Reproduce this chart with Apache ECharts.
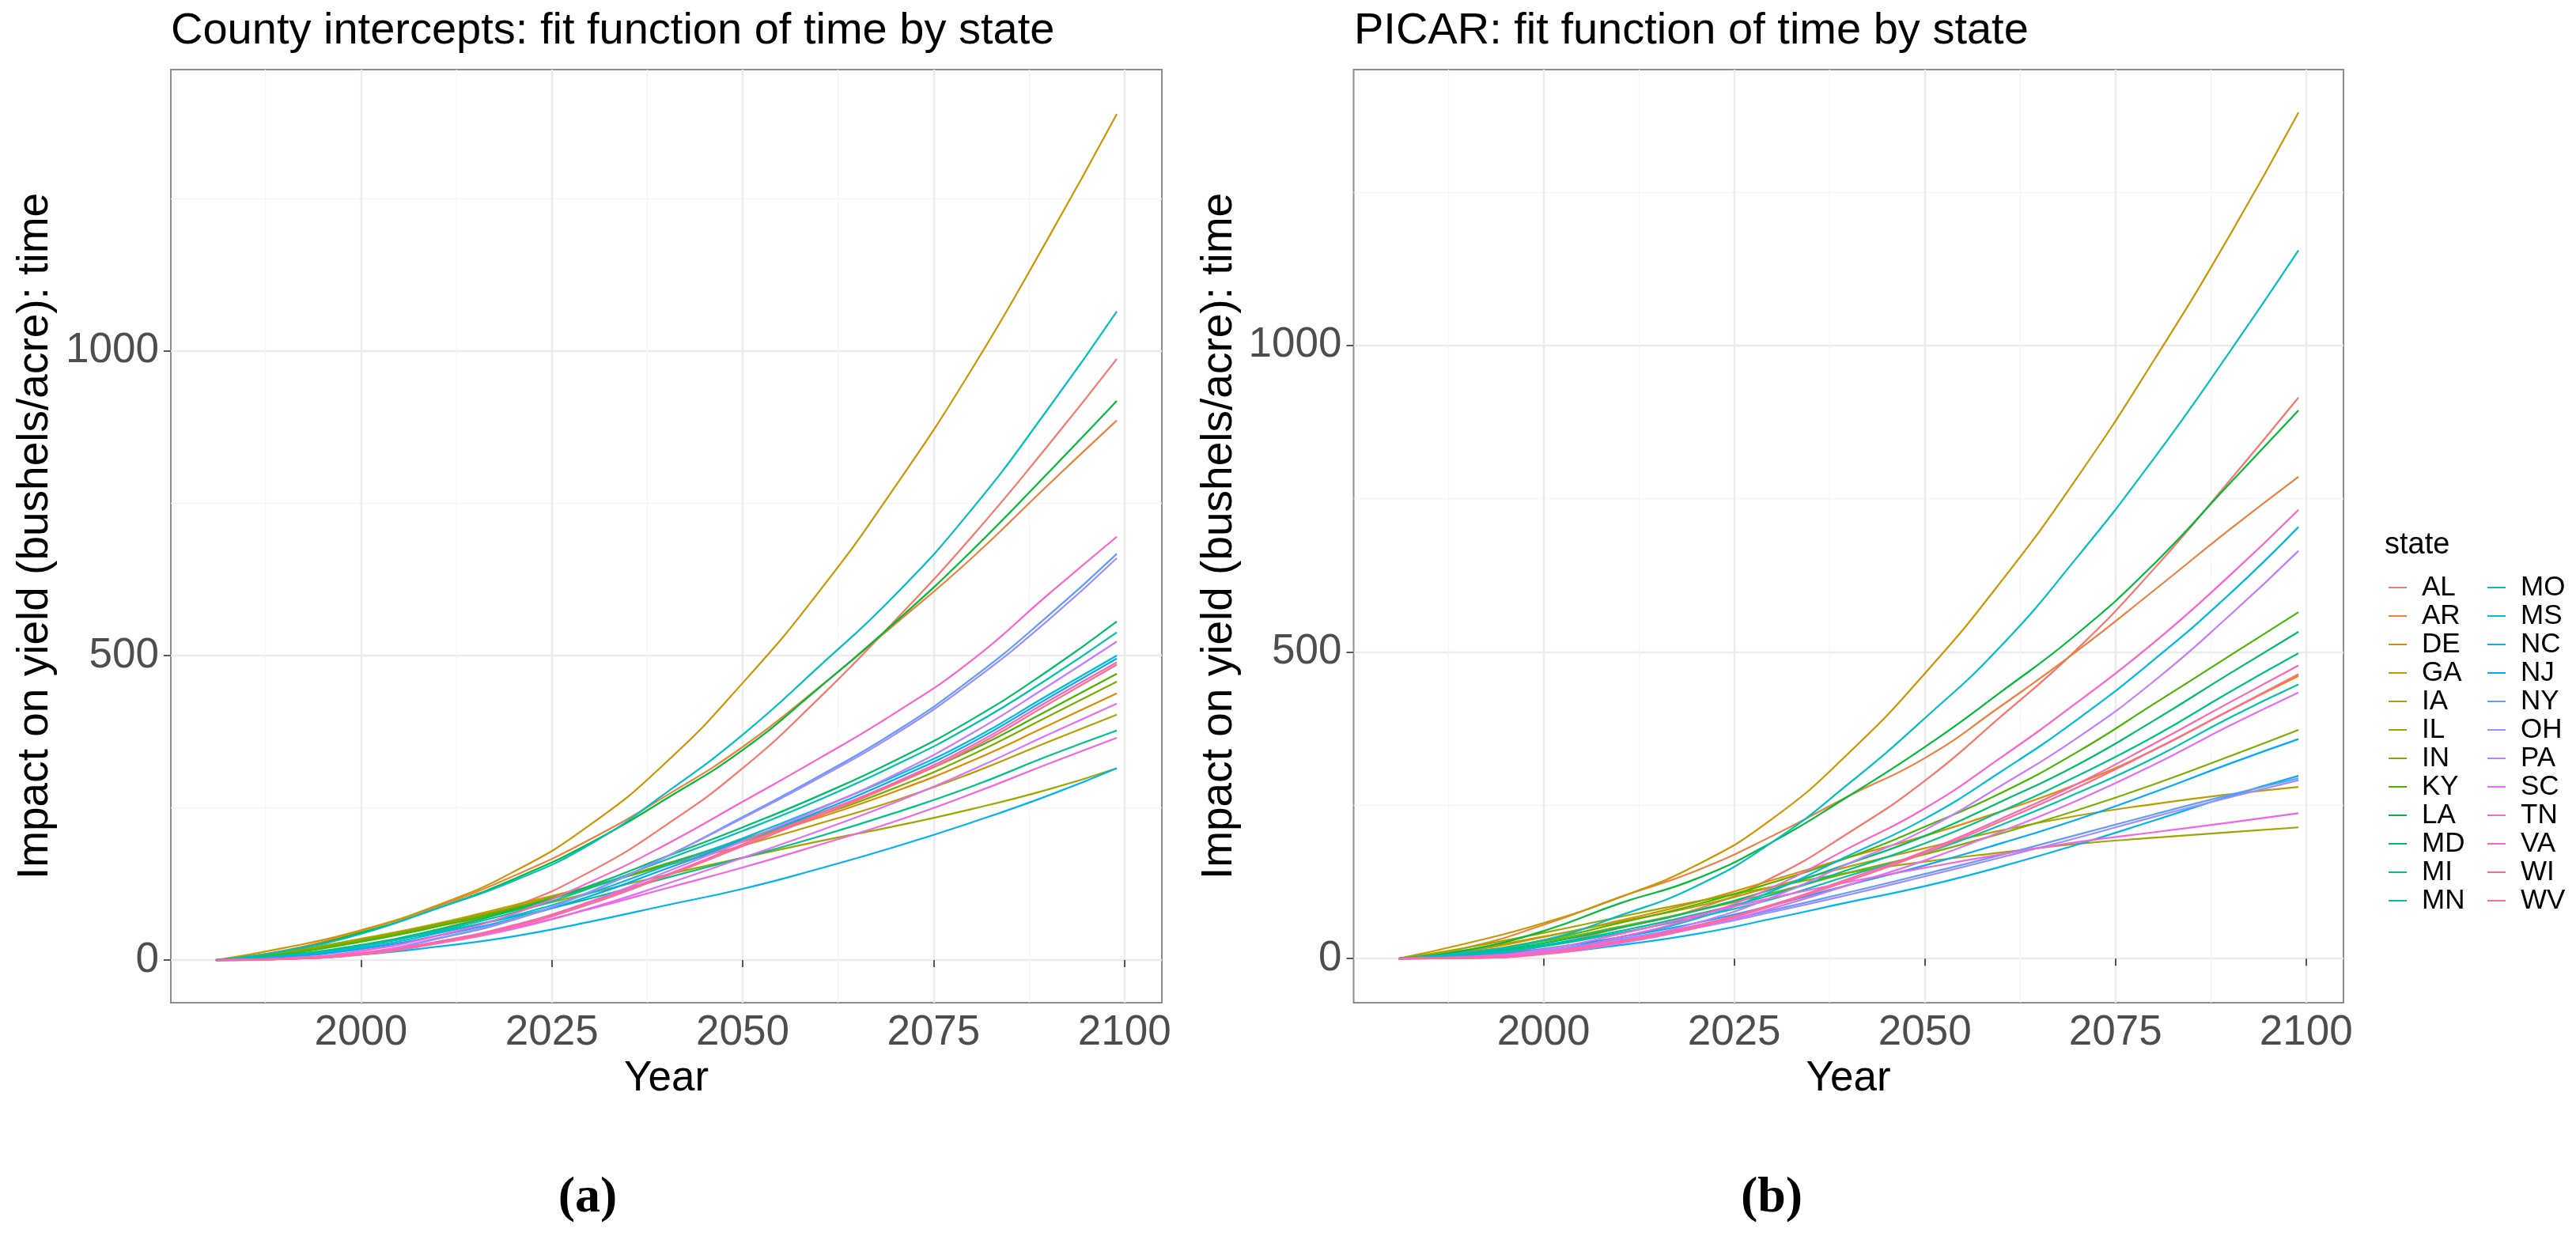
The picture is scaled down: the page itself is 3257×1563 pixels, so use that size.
<!DOCTYPE html>
<html><head><meta charset="utf-8">
<script src="https://cdn.jsdelivr.net/npm/echarts@6/dist/echarts.min.js"></script>
<style>html,body{margin:0;padding:0;background:#fff}#c{width:3257px;height:1563px}</style>
</head><body><div id="c"></div>
<script>
// ---------------- data ----------------
const years = [1981, 1990, 2000, 2010, 2020, 2030, 2040, 2050, 2060, 2070, 2080, 2090, 2099];
const statesCol1 = ['AL','AR','DE','GA','IA','IL','IN','KY','LA','MD','MI','MN'];
const statesCol2 = ['MO','MS','NC','NJ','NY','OH','PA','SC','TN','VA','WI','WV'];
const xTicks = [2000, 2025, 2050, 2075, 2100];
const xMinor = [1987.5, 2012.5, 2037.5, 2062.5, 2087.5];
const yTicks = [0, 500, 1000];
const yMinor = [250, 750, 1250];

// (a) County intercepts
const ci_AL = [0, 5, 22, 50, 88, 145, 222, 315, 430, 558, 695, 845, 987];
const ci_AR = [0, 16, 48, 88, 138, 198, 270, 350, 448, 552, 660, 780, 886];
const ci_DE = [0, 12, 33, 58, 87, 120, 157, 194, 234, 277, 327, 385, 438];
const ci_GA = [0, 20, 49, 90, 145, 222, 325, 455, 605, 778, 970, 1185, 1389];
const ci_IA = [0, 13, 35, 60, 90, 121, 155, 188, 224, 262, 307, 358, 403];
const ci_IL = [0, 14, 34, 56, 81, 110, 140, 168, 195, 220, 248, 280, 315];
const ci_IN = [0, 12, 32, 58, 86, 120, 158, 196, 237, 283, 337, 400, 457];
const ci_KY = [0, 10, 30, 55, 84, 119, 158, 198, 241, 290, 345, 410, 470];
const ci_LA = [0, 15, 45, 85, 133, 192, 265, 345, 447, 555, 672, 800, 918];
const ci_MD = [0, 8, 25, 50, 82, 122, 170, 218, 270, 328, 395, 475, 556];
const ci_MI = [0, 8, 24, 46, 71, 101, 135, 168, 203, 242, 285, 335, 377];
const ci_MN = [0, 7, 23, 48, 78, 118, 165, 212, 263, 320, 385, 462, 538];
const ci_MO = [0, 15, 43, 85, 130, 190, 275, 370, 482, 600, 740, 905, 1065];
const ci_MS = [0, 6, 20, 44, 73, 110, 155, 200, 249, 302, 362, 435, 500];
const ci_NC = [0, 2, 9, 22, 39, 63, 90, 117, 150, 186, 226, 270, 315];
const ci_NJ = [0, 5, 18, 40, 68, 105, 150, 196, 244, 297, 357, 430, 495];
const ci_NY = [0, 2, 10, 35, 66, 112, 170, 235, 302, 375, 462, 565, 667];
const ci_OH = [0, 2, 11, 36, 67, 112, 170, 233, 299, 371, 457, 558, 660];
const ci_PA = [0, 2, 10, 30, 57, 96, 145, 195, 248, 305, 372, 450, 523];
const ci_SC = [0, 2, 9, 27, 51, 85, 125, 168, 212, 259, 312, 370, 421];
const ci_TN = [0, 3, 12, 30, 53, 84, 118, 152, 189, 228, 273, 322, 365];
const ci_VA = [0, 3, 15, 40, 76, 128, 190, 260, 331, 406, 492, 600, 695];
const ci_WI = [0, 2, 10, 30, 57, 95, 140, 190, 240, 292, 352, 425, 489];
const ci_WV = [0, 2, 9, 28, 55, 92, 138, 187, 237, 289, 348, 420, 485];

// (b) PICAR
const pc_AL = [0, 4, 20, 50, 80, 132, 205, 290, 395, 505, 635, 780, 915];
const pc_AR = [0, 18, 55, 100, 143, 200, 265, 327, 412, 502, 600, 700, 786];
const pc_DE = [0, 12, 35, 62, 92, 128, 165, 200, 240, 285, 340, 405, 461];
const pc_GA = [0, 25, 58, 100, 152, 228, 335, 465, 615, 785, 975, 1180, 1380];
const pc_IA = [0, 14, 36, 60, 85, 117, 150, 180, 209, 233, 252, 268, 280];
const pc_IL = [0, 18, 42, 68, 93, 117, 140, 158, 173, 187, 197, 206, 214];
const pc_IN = [0, 9, 28, 52, 78, 107, 140, 170, 204, 242, 284, 330, 373];
const pc_KY = [0, 10, 30, 58, 88, 124, 165, 215, 270, 337, 415, 494, 565];
const pc_LA = [0, 14, 45, 90, 130, 190, 265, 345, 435, 530, 643, 775, 894];
const pc_MD = [0, 8, 25, 50, 78, 113, 155, 200, 256, 316, 388, 465, 533];
const pc_MI = [0, 7, 22, 45, 72, 104, 145, 188, 240, 298, 362, 435, 498];
const pc_MN = [0, 6, 20, 42, 67, 97, 135, 172, 218, 270, 327, 393, 447];
const pc_MO = [0, 10, 30, 70, 118, 190, 285, 392, 510, 655, 815, 990, 1155];
const pc_MS = [0, 3, 12, 35, 65, 110, 168, 228, 305, 390, 487, 595, 704];
const pc_NC = [0, 1, 8, 22, 40, 65, 92, 118, 150, 186, 225, 265, 298];
const pc_NJ = [0, 4, 16, 35, 58, 87, 120, 152, 188, 227, 271, 318, 358];
const pc_NY = [0, 3, 13, 32, 53, 79, 108, 138, 169, 202, 235, 267, 294];
const pc_OH = [0, 2, 12, 30, 50, 76, 104, 134, 165, 197, 231, 263, 291];
const pc_PA = [0, 2, 10, 30, 58, 100, 155, 210, 282, 360, 452, 560, 665];
const pc_SC = [0, 1, 7, 25, 50, 82, 120, 160, 207, 258, 316, 380, 434];
const pc_TN = [0, 3, 15, 40, 70, 99, 125, 148, 170, 190, 206, 222, 237];
const pc_VA = [0, 2, 10, 35, 68, 116, 180, 245, 328, 418, 515, 625, 732];
const pc_WI = [0, 1, 8, 28, 54, 88, 130, 175, 228, 285, 350, 418, 478];
const pc_WV = [0, 1, 8, 27, 52, 86, 127, 172, 224, 279, 340, 405, 464];

const countyTable = {AL:ci_AL,AR:ci_AR,DE:ci_DE,GA:ci_GA,IA:ci_IA,IL:ci_IL,IN:ci_IN,KY:ci_KY,LA:ci_LA,MD:ci_MD,MI:ci_MI,MN:ci_MN,
  MO:ci_MO,MS:ci_MS,NC:ci_NC,NJ:ci_NJ,NY:ci_NY,OH:ci_OH,PA:ci_PA,SC:ci_SC,TN:ci_TN,VA:ci_VA,WI:ci_WI,WV:ci_WV};
const picarTable = {AL:pc_AL,AR:pc_AR,DE:pc_DE,GA:pc_GA,IA:pc_IA,IL:pc_IL,IN:pc_IN,KY:pc_KY,LA:pc_LA,MD:pc_MD,MI:pc_MI,MN:pc_MN,
  MO:pc_MO,MS:pc_MS,NC:pc_NC,NJ:pc_NJ,NY:pc_NY,OH:pc_OH,PA:pc_PA,SC:pc_SC,TN:pc_TN,VA:pc_VA,WI:pc_WI,WV:pc_WV};

// ---------------- styling ----------------
// ggplot2 default hue palette (hcl, c=100, l=65)
function hclHex(h, c, l) {
  const hr = h * Math.PI / 180;
  const U = c * Math.cos(hr), V = c * Math.sin(hr);
  const Xn = 95.047, Yn = 100, Zn = 108.883;
  const den = Xn + 15 * Yn + 3 * Zn;
  const un = 4 * Xn / den, vn = 9 * Yn / den;
  const Y = l > 8 ? Yn * Math.pow((l + 16) / 116, 3) : Yn * l / 903.3;
  const u = U / (13 * l) + un, v = V / (13 * l) + vn;
  const X = Y * 9 * u / (4 * v);
  const Z = Y * (12 - 3 * u - 20 * v) / (4 * v);
  const x = X / 100, y = Y / 100, z = Z / 100;
  let rgb = [
    3.240479 * x - 1.537150 * y - 0.498535 * z,
    -0.969256 * x + 1.875992 * y + 0.041556 * z,
    0.055648 * x - 0.204043 * y + 1.057311 * z
  ];
  rgb = rgb.map(t => {
    t = t <= 0.0031308 ? 12.92 * t : 1.055 * Math.pow(t, 1 / 2.4) - 0.055;
    t = Math.max(0, Math.min(1, t));
    return Math.round(t * 255).toString(16).padStart(2, '0');
  });
  return '#' + rgb.join('');
}
const allStates = statesCol1.concat(statesCol2);
const palette = {};
allStates.forEach((s, i) => { palette[s] = hclHex(15 + 360 / allStates.length * i, 100, 65); });

const FONT = "'Liberation Sans', Arial, Helvetica, sans-serif";
const grids = [
  {left: 216, top: 88, width: 1253, height: 1180},
  {left: 1711.5, top: 88, width: 1251.5, height: 1180}
];
const yRanges = [[-70, 1462], [-72, 1450]];
const xRange = [1975.1, 2104.9];
const plain = v => String(Math.round(v));

function makeX(gi) {
  return [{
    gridIndex: gi, type: 'value', min: xRange[0], max: xRange[1], position: 'bottom',
    axisLine: {show: false},
    axisTick: {show: true, length: 9, customValues: xTicks, lineStyle: {color: '#555', width: 2}},
    axisLabel: {customValues: xTicks, formatter: plain, fontSize: 53, color: '#4d4d4d', margin: 12, fontFamily: FONT},
    splitLine: {show: true, lineStyle: {color: '#ebebeb', width: 2.4}}
  }, {
    gridIndex: gi, type: 'value', min: xRange[0], max: xRange[1], position: 'bottom',
    axisLine: {show: false},
    axisTick: {show: false, customValues: xMinor},
    axisLabel: {show: false, customValues: xMinor},
    splitLine: {show: true, lineStyle: {color: '#f4f4f4', width: 1.3}}
  }];
}
function makeY(gi) {
  return [{
    gridIndex: gi, type: 'value', min: yRanges[gi][0], max: yRanges[gi][1], position: 'left',
    axisLine: {show: false},
    axisTick: {show: true, length: 9, customValues: yTicks, lineStyle: {color: '#555', width: 2}},
    axisLabel: {customValues: yTicks, formatter: plain, fontSize: 53, color: '#4d4d4d', margin: 15, fontFamily: FONT},
    splitLine: {show: true, lineStyle: {color: '#ebebeb', width: 2.4}}
  }, {
    gridIndex: gi, type: 'value', min: yRanges[gi][0], max: yRanges[gi][1], position: 'left',
    axisLine: {show: false},
    axisTick: {show: false, customValues: yMinor},
    axisLabel: {show: false, customValues: yMinor},
    splitLine: {show: true, lineStyle: {color: '#f4f4f4', width: 1.3}}
  }];
}

const series = [];
[countyTable, picarTable].forEach((tbl, gi) => {
  allStates.forEach(s => {
    series.push({
      name: s, type: 'line', xAxisIndex: gi * 2, yAxisIndex: gi * 2,
      data: years.map((yr, k) => [yr, tbl[s][k]]),
      showSymbol: false, symbol: 'none', smooth: 0.5,
      lineStyle: {color: palette[s], width: 2.2},
      itemStyle: {color: palette[s]},
      emphasis: {disabled: true}, silent: true, z: 3
    });
  });
});

function legendCol(names, left) {
  return {
    orient: 'vertical', left: left, top: 720, data: names, icon: 'rect',
    itemWidth: 23, itemHeight: 2, itemGap: 0, selectedMode: false,
    textStyle: {fontSize: 35, color: '#000', fontFamily: FONT, lineHeight: 36, padding: [0, 0, 0, 14]}
  };
}

const option = {
  backgroundColor: '#fff',
  animation: false,
  grid: grids.map(g => Object.assign({show: true, borderColor: '#8c8c8c', borderWidth: 2, backgroundColor: '#fff'}, g)),
  xAxis: makeX(0).concat(makeX(1)),
  yAxis: makeY(0).concat(makeY(1)),
  legend: [legendCol(statesCol1, 3015), legendCol(statesCol2, 3140)],
  series: series,
  graphic: [
    {type: 'text', left: 216, top: 12, style: {text: 'County intercepts: fit function of time by state', font: '56px ' + FONT, fill: '#000'}},
    {type: 'text', left: 1712, top: 12, style: {text: 'PICAR: fit function of time by state', font: '56px ' + FONT, fill: '#000'}},
    {type: 'text', x: 45, y: 678, rotation: Math.PI / 2, style: {text: 'Impact on yield (bushels/acre): time', font: '55px ' + FONT, fill: '#000', align: 'center', verticalAlign: 'middle'}},
    {type: 'text', x: 1542, y: 678, rotation: Math.PI / 2, style: {text: 'Impact on yield (bushels/acre): time', font: '55px ' + FONT, fill: '#000', align: 'center', verticalAlign: 'middle'}},
    {type: 'text', x: 842.5, y: 1364, style: {text: 'Year', font: '53px ' + FONT, fill: '#000', align: 'center', verticalAlign: 'middle'}},
    {type: 'text', x: 2337, y: 1364, style: {text: 'Year', font: '53px ' + FONT, fill: '#000', align: 'center', verticalAlign: 'middle'}},
    {type: 'text', x: 3015, y: 690, style: {text: 'state', font: '38px ' + FONT, fill: '#000', align: 'left', verticalAlign: 'middle'}},
    {type: 'text', x: 743, y: 1515, style: {text: '(a)', font: 'bold 64px "Liberation Serif", "DejaVu Serif", serif', fill: '#000', align: 'center', verticalAlign: 'middle'}},
    {type: 'text', x: 2240, y: 1515, style: {text: '(b)', font: 'bold 64px "Liberation Serif", "DejaVu Serif", serif', fill: '#000', align: 'center', verticalAlign: 'middle'}}
  ]
};

const chart = echarts.init(document.getElementById('c'), null, {renderer: 'canvas'});
chart.setOption(option);
</script>
</body></html>
